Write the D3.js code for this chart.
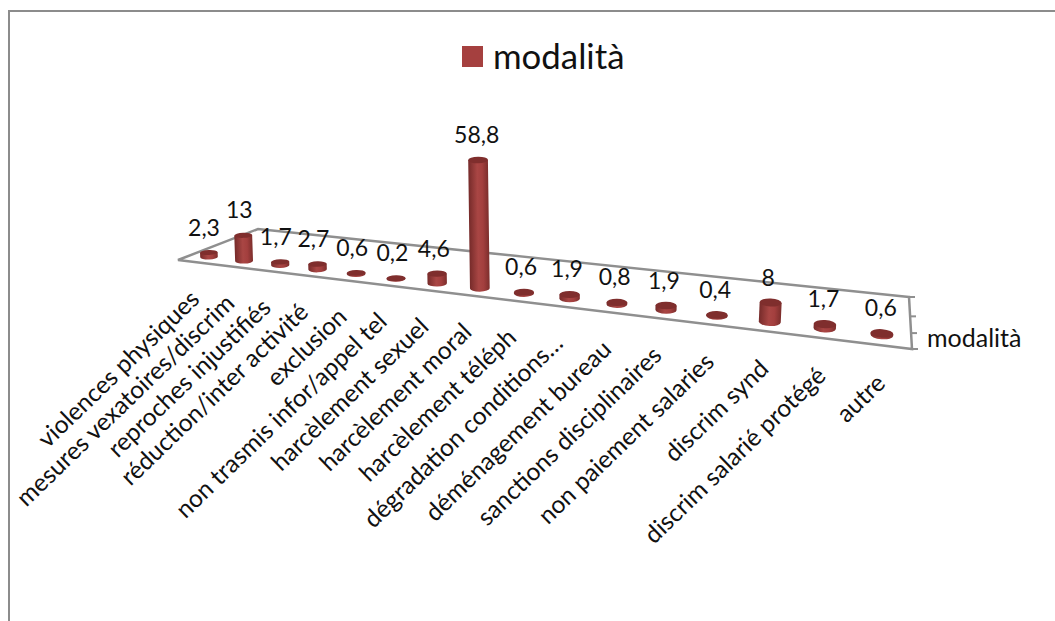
<!DOCTYPE html>
<html>
<head>
<meta charset="utf-8">
<script src="https://cdn.jsdelivr.net/npm/d3@7"></script>
<style>
  html, body { margin: 0; padding: 0; background: #fff; overflow: hidden; }
  text { font-family: Lato, "Open Sans", sans-serif; fill: #111; }
</style>
</head>
<body>
<script>
// chart data
const categories = ["violences physiques", "mesures vexatoires/discrim", "reproches injustifiés",
    "réduction/inter activité", "exclusion", "non trasmis infor/appel tel", "harcèlement sexuel",
    "harcèlement moral", "harcèlement téléph", "dégradation conditions…", "déménagement bureau",
    "sanctions disciplinaires", "non paiement salaries", "discrim synd", "discrim salarié protégé", "autre"];
const values = [2.3, 13, 1.7, 2.7, 0.6, 0.2, 4.6, 58.8, 0.6, 1.9, 0.8, 1.9, 0.4, 8, 1.7, 0.6];
const seriesName = "modalità";
const depthTicks = [0, 1, 2, 3];

const width = 1055, height = 621;

const svg = d3.select("body")
    .append("svg")
    .attr("width", width)
    .attr("height", height);

// the 3d look: position along the axis goes through a perspective divide
const along = d3.scalePoint().domain(categories).range([0, 1]);
const persp = u => 1 - 0.23 * u;
const screenX = u => (209 + 470 * u) / persp(u);
const baseY = d3.scaleLinear().domain([209, 882]).range([257, 335]);
const barH = d3.scaleLinear().domain([0, 60]).range([0, 117]);
const tilt = u => -2 + 1.5 * u + 5 * u * u * u;

// gradient for the cylinders
const defs = svg.append("defs");
const grad = defs.append("linearGradient").attr("id", "cyl");
grad.append("stop").attr("offset", "0%").attr("stop-color", "#762b2a");
grad.append("stop").attr("offset", "45%").attr("stop-color", "#a94644");
grad.append("stop").attr("offset", "70%").attr("stop-color", "#a33f3e");
grad.append("stop").attr("offset", "100%").attr("stop-color", "#7c2e2c");

// outer chart border, only top and left are in the picture
svg.append("path")
    .attr("d", "M1055,11H9V621")
    .attr("fill", "none")
    .attr("stroke", "#8c8c8c")
    .attr("stroke-width", 2);

// floor
const floorColor = "#8f8f8f";
svg.append("path")
    .attr("d", "M909,297L258,229L178,260L912,349Z")
    .attr("fill", "none")
    .attr("stroke", floorColor)
    .attr("stroke-width", 2.5);

// depth axis on the right side
const depthY = d3.scalePow().exponent(0.9).domain([0, 3]).range([297, 349]);
const depthX = d3.scaleLinear().domain([0, 3]).range([909, 912]);
svg.selectAll(".tick-depth")
    .data(depthTicks)
    .join("line")
    .attr("class", "tick-depth")
    .attr("x1", d => depthX(d))
    .attr("x2", d => depthX(d) + 6)
    .attr("y1", d => depthY(d))
    .attr("y2", d => depthY(d))
    .attr("stroke", floorColor)
    .attr("stroke-width", 2);

svg.append("text")
    .attr("x", 927)
    .attr("y", 347)
    .style("font-size", "25px")
    .text(seriesName);

// bars
const bars = svg.selectAll(".bar")
    .data(categories.map((c, i) => ({c: c, v: values[i], u: along(c)})))
    .join("g")
    .attr("class", "bar")
    .attr("transform", d => {
        const x = screenX(d.u);
        return `translate(${x},${baseY(x)}) rotate(${tilt(d.u)})`;
    });

const rx = d => 8.8 / persp(d.u);
const ry = d => 2.4 + 1.9 * d.u;
const h = d => barH(d.v) / persp(d.u);

bars.append("path")
    .attr("fill", "url(#cyl)")
    .attr("d", d => `M${-rx(d)},${-h(d)}V0A${rx(d)},${ry(d)} 0 0 0 ${rx(d)},0V${-h(d)}Z`);

bars.append("ellipse")
    .attr("cy", d => -h(d))
    .attr("rx", rx)
    .attr("ry", ry)
    .attr("fill", "#7f2e2d");

// data labels
svg.selectAll(".value")
    .data(categories.map((c, i) => ({c: c, v: values[i], u: along(c)})))
    .join("text")
    .attr("class", "value")
    .attr("text-anchor", "middle")
    .attr("x", d => screenX(d.u) - 5 + 4 * d.u)
    .attr("y", d => baseY(screenX(d.u)) - h(d) - 17)
    .style("font-size", "23px")
    .text(d => String(d.v).replace(".", ","));

// category labels
svg.selectAll(".cat")
    .data(categories)
    .join("text")
    .attr("class", "cat")
    .attr("text-anchor", "end")
    .attr("transform", d => {
        const u = along(d), x = screenX(u);
        return `translate(${x - 8 + 13 * u * u * u},${baseY(x) + 44 + 6 * u * u}) rotate(-44)`;
    })
    .style("font-size", "24.5px")
    .text(d => d);

// legend
svg.append("rect")
    .attr("x", 462)
    .attr("y", 46)
    .attr("width", 21)
    .attr("height", 21)
    .attr("fill", "#a5403f");

svg.append("text")
    .attr("x", 493)
    .attr("y", 69)
    .style("font-size", "34.8px")
    .text(seriesName);
</script>
</body>
</html>
